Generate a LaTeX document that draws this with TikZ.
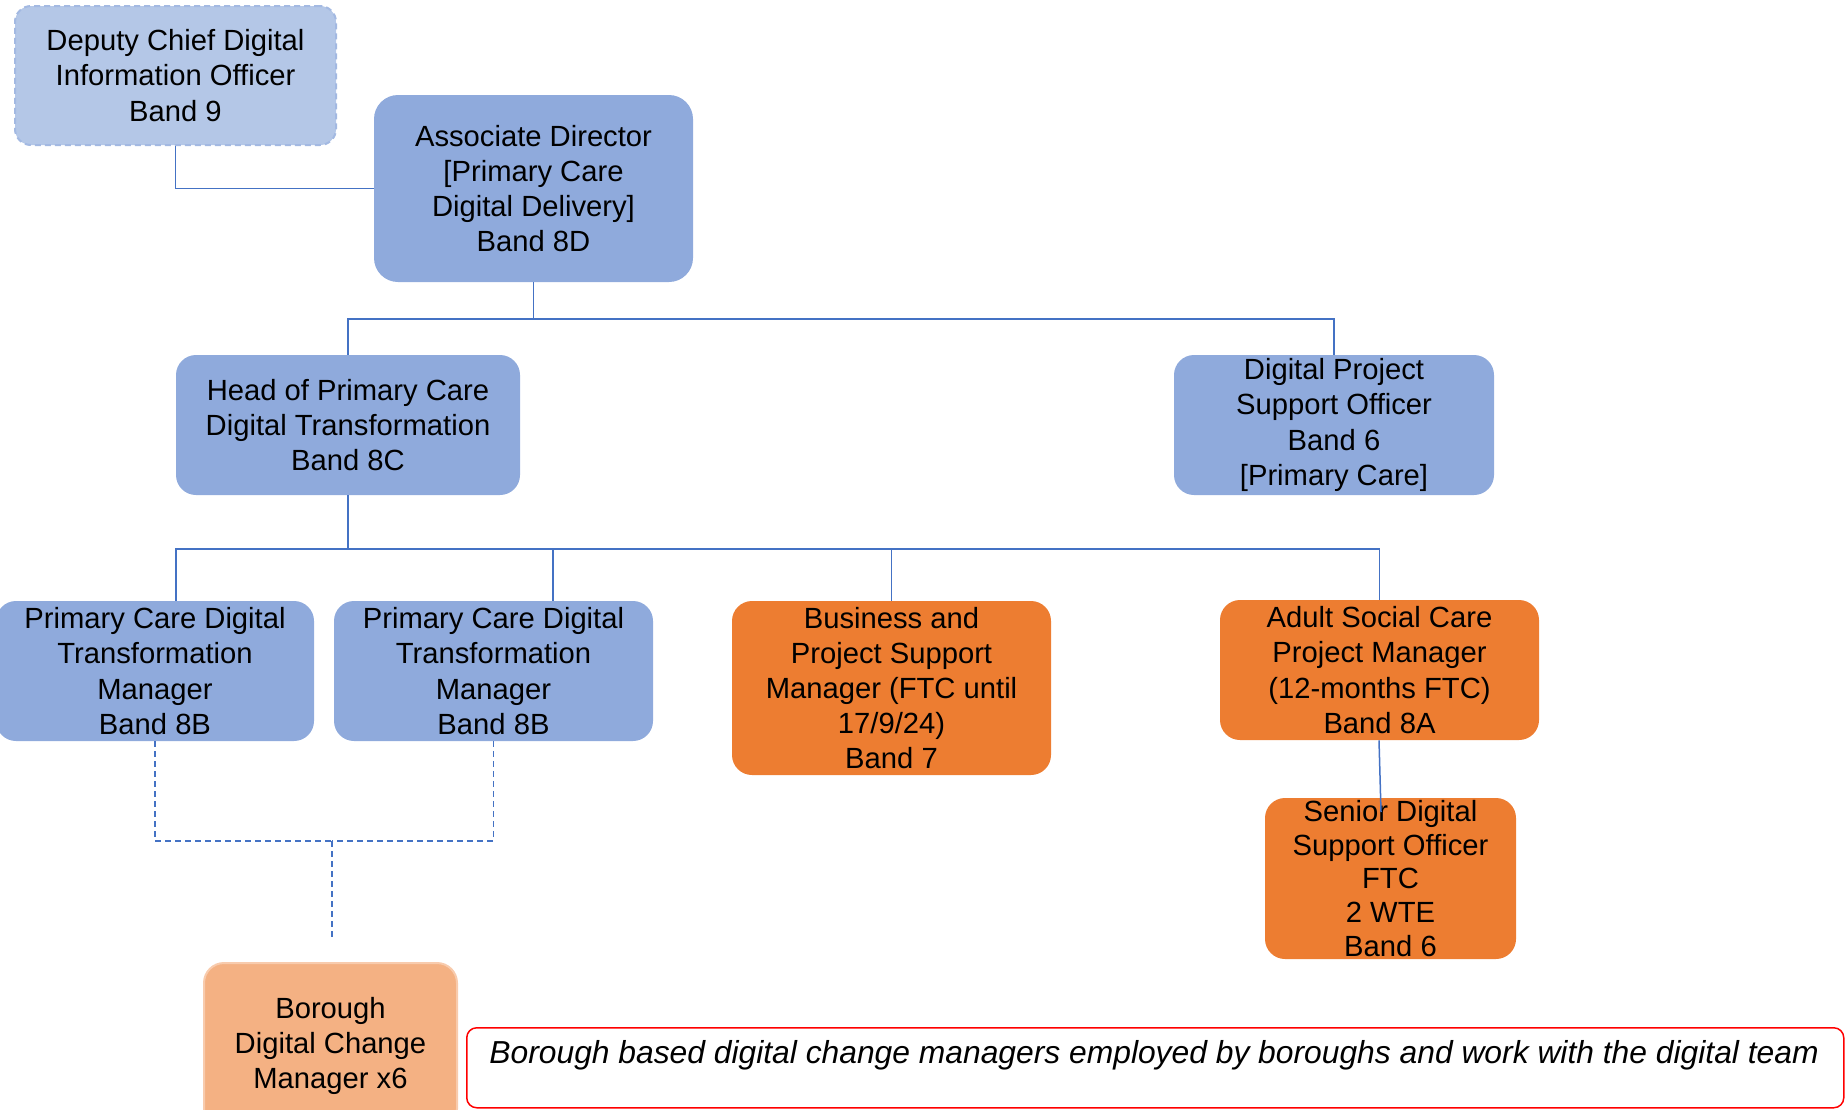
\documentclass[tikz,border=0pt]{standalone}
\usepackage{fontspec}
\setmainfont{Liberation Sans}
\usetikzlibrary{calc}
\definecolor{boxblue}{HTML}{8FAADC}
\definecolor{lightblue}{HTML}{B4C7E7}
\definecolor{dashblue}{HTML}{A3B9E2}
\definecolor{boxorange}{HTML}{ED7D31}
\definecolor{paleorange}{HTML}{F4B183}
\definecolor{paleedge}{HTML}{F8CBAD}
\definecolor{linkblue}{HTML}{4472C4}
\definecolor{notered}{HTML}{FF0000}
\tikzset{
  orgbox/.style={rounded corners=10pt, align=center, inner sep=0pt,
    font=\fontsize{14.6}{17.6}\selectfont, text=black},
  bluebox/.style={orgbox, fill=boxblue},
  orangebox/.style={orgbox, fill=boxorange},
  link/.style={draw=linkblue, line width=0.75pt},
  dlink/.style={draw=linkblue, line width=0.75pt, dash pattern=on 3pt off 2pt}
}
\begin{document}
\begin{tikzpicture}[x=0.5pt, y=-0.5pt]
\useasboundingbox (0,0) rectangle (1845,1109);

\node[orgbox, fill=lightblue, draw=dashblue, line width=1pt, dash pattern=on 3pt off 2pt, rounded corners=8pt,
  minimum width=160.5pt, minimum height=69.5pt] (dep) at (175.5,75.5)
  {Deputy Chief Digital\\Information Officer\\Band 9};

\node[bluebox, rounded corners=12pt, minimum width=159.5pt, minimum height=93.5pt] (ad) at (533.5,188.5)
  {Associate Director\\{[}Primary Care\\Digital Delivery{]}\\Band 8D};

\node[bluebox, minimum width=172pt, minimum height=70pt] (head) at (348,425)
  {Head of Primary Care\\Digital Transformation\\Band 8C};

\node[bluebox, minimum width=160pt, minimum height=70pt] (dpso) at (1334,425)
  {Digital Project\\Support Officer\\Band 6\\{[}Primary Care{]}};

\node[bluebox, minimum width=159pt, minimum height=70pt] (pc1) at (155,671)
  {Primary Care Digital\\Transformation\\Manager\\Band 8B};

\node[bluebox, minimum width=159.5pt, minimum height=70pt] (pc2) at (493.5,671)
  {Primary Care Digital\\Transformation\\Manager\\Band 8B};

\node[orangebox, minimum width=159.5pt, minimum height=87pt] (bus) at (891.5,688)
  {Business and\\Project Support\\Manager (FTC until\\17/9/24)\\Band 7};

\node[orangebox, minimum width=159.5pt, minimum height=70pt] (asc) at (1379.5,670)
  {Adult Social Care\\Project Manager\\(12-months FTC)\\Band 8A};

\node[orangebox, font=\fontsize{14.6}{16.8}\selectfont, minimum width=125.5pt, minimum height=80.5pt] (sen) at (1390.5,878.5)
  {Senior Digital\\Support Officer\\FTC\\2 WTE\\Band 6};

\node[orgbox, fill=paleorange, draw=paleedge, line width=1pt, minimum width=126.5pt, minimum height=83pt] (bor) at (330.5,1046)
  {Borough\\Digital Change\\Manager x6};

\node[draw=notered, line width=0.75pt, fill=white, rounded corners=5pt, inner sep=0pt,
  minimum width=688.5pt, minimum height=40pt, anchor=north west] (note) at (466,1027) {};
\node[anchor=west, inner sep=0pt, font=\fontsize{15.9}{19}\selectfont\itshape] (notetxt) at (489,1055)
  {Borough based digital change managers employed by boroughs and work with the digital team};

% connectors
\draw[link] (dep.south) |- (ad.west);

\coordinate (busA) at (533.5,319);
\draw[link] (ad.south) -- (busA);
\draw[link] (head.north) |- (busA);
\draw[link] (dpso.north) |- (busA);

\coordinate (busB) at (348,549);
\draw[link] (head.south) -- (busB);
\draw[link] ($(pc1.north)+(21,0)$) |- (busB);
\draw[link] ($(pc2.north)+(59.5,0)$) |- (busB);
\draw[link] (bus.north) |- (busB);
\draw[link] (asc.north) |- (busB);

\coordinate (senend) at (1381,812);
\draw[link] ($(asc.south)+(-0.5,0)$) -- (senend);

\coordinate (dashmid) at (332,841);
\coordinate (dashend) at (332,940);
\draw[dlink] (pc1.south) |- (dashmid);
\draw[dlink] (pc2.south) |- (dashmid);
\draw[dlink] (dashmid) -- (dashend);
\end{tikzpicture}
\end{document}
